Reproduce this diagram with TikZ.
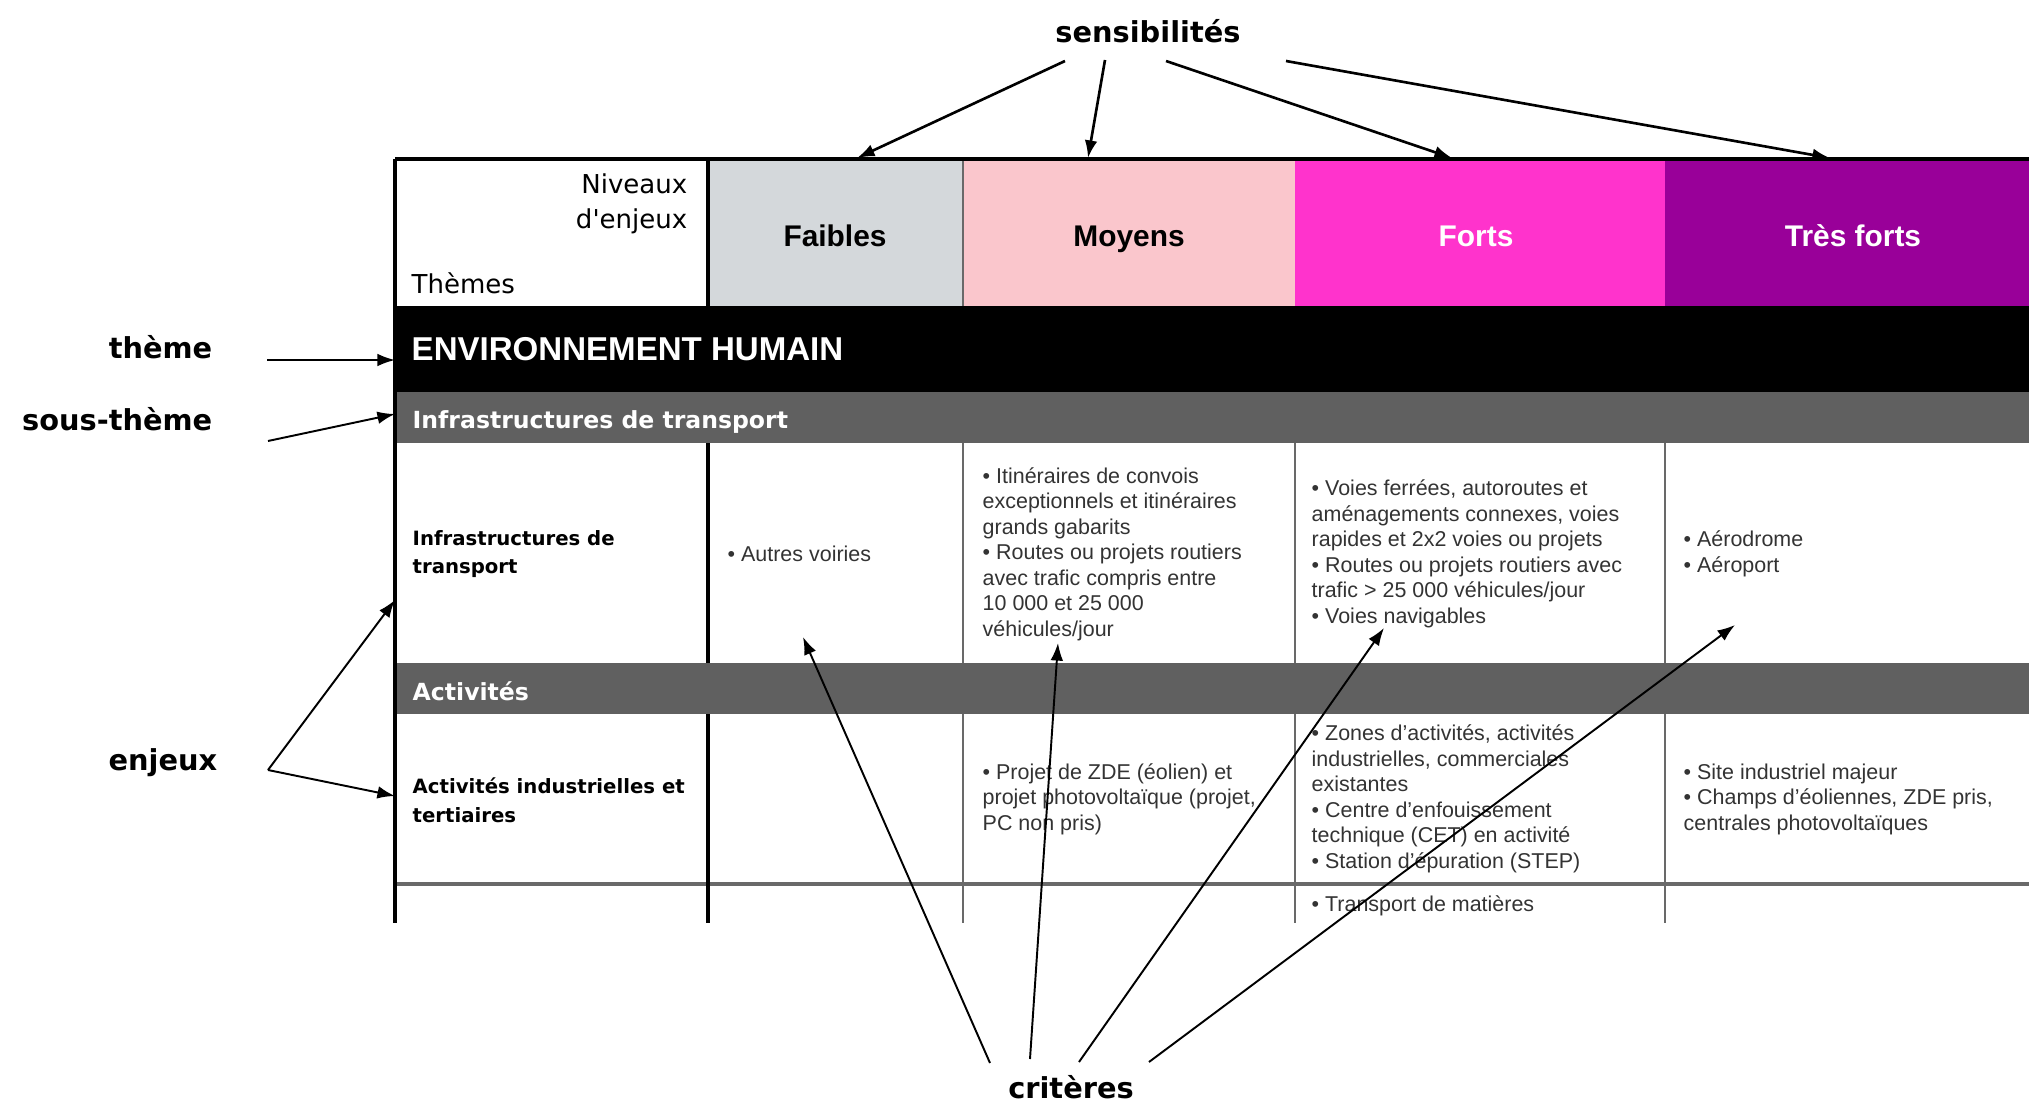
\documentclass[tikz,border=0pt]{standalone}
\usepackage{fontspec}
\setmainfont{Liberation Sans}
\newfontfamily\dejavu{DejaVu Sans}
\usetikzlibrary{arrows.meta}
\definecolor{faible}{RGB}{212,216,219}
\definecolor{moyen}{RGB}{250,198,204}
\definecolor{fort}{RGB}{255,51,204}
\definecolor{tresfort}{RGB}{153,0,153}
\definecolor{bande}{RGB}{96,96,96}
\definecolor{trait}{RGB}{105,105,105}

\begin{document}
\begin{tikzpicture}[x=0.01cm,y=-0.01cm,
  lab/.style={inner sep=0pt,font=\dejavu\bfseries\fontsize{8.2}{10}\selectfont},
  fleche/.style={-{Latex[length=5pt,width=3.6pt]},line width=0.55pt},
  titre/.style={anchor=base,inner sep=0pt,font=\bfseries\fontsize{8.5}{10}\selectfont},
  bandeau/.style={anchor=base west,inner sep=0pt,text=white,font=\dejavu\bfseries\fontsize{6.7}{8}\selectfont},
  enjeu/.style={anchor=west,inner sep=0pt,align=left,font=\dejavu\bfseries\fontsize{5.6}{8.2}\selectfont},
  cell/.style={anchor=west,inner sep=0pt,align=left,text=black!80,font=\fontsize{6.1}{7.25}\selectfont},
  grille/.style={trait,line width=0.45pt},
  gras/.style={black,line width=1.1pt}]
\fill[white] (0,0) rectangle (2029,1103);
\useasboundingbox (0,0) rectangle (2029,1103);

% en-tete
\fill[faible] (708,159) rectangle (963,306);
\fill[moyen] (963,159) rectangle (1295,306);
\fill[fort] (1295,159) rectangle (1665,306);
\fill[tresfort] (1665,159) rectangle (2029,306);
\fill[black] (395,306) rectangle (2029,392);
\fill[bande] (395,392) rectangle (2029,443);
\fill[bande] (395,663) rectangle (2029,714);

% grille
\draw[grille] (963,159)--(963,306);
\draw[grille] (963,443)--(963,663);
\draw[grille] (1295,443)--(1295,663);
\draw[grille] (1665,443)--(1665,663);
\draw[grille] (963,714)--(963,923);
\draw[grille] (1295,714)--(1295,923);
\draw[grille] (1665,714)--(1665,923);
\draw[trait,line width=1.1pt] (395,884)--(2029,884);
\draw[gras] (395,159)--(2029,159);
\draw[gras] (395,159)--(395,923);
\draw[gras] (708,159)--(708,306);
\draw[gras] (708,443)--(708,663);
\draw[gras] (708,714)--(708,923);

% textes du tableau
\node[anchor=east,inner sep=0pt,align=right,font=\dejavu\fontsize{7.4}{10}\selectfont] (niveaux) at (688,204) {Niveaux\\d'enjeux};
\node[anchor=base west,inner sep=0pt,font=\dejavu\fontsize{7.4}{10}\selectfont] (themes) at (411,293) {Thèmes};
\node[titre] (faibles) at (835,246) {Faibles};
\node[titre] (moyens) at (1129,246) {Moyens};
\node[titre,text=white] (forts) at (1476,246) {Forts};
\node[titre,text=white] (tresforts) at (1853,246) {Très forts};
\node[anchor=base west,inner sep=0pt,text=white,font=\bfseries\fontsize{9.4}{11}\selectfont] (env) at (411,360) {ENVIRONNEMENT HUMAIN};
\node[bandeau] (infra) at (412,428) {Infrastructures de transport};
\node[bandeau] (activ) at (412,700) {Activités};

\node[enjeu] (e1) at (412,554) {Infrastructures de\\transport};
\node[enjeu] (e2) at (412,800) {Activités industrielles et\\tertiaires};

\node[cell] (c11) at (727,554) {• Autres voiries};
\node[cell] (c12) at (982,554) {• Itinéraires de convois\\exceptionnels et itinéraires\\grands gabarits\\• Routes ou projets routiers\\avec trafic compris entre\\10 000 et 25 000\\véhicules/jour};
\node[cell] (c13) at (1311,554) {• Voies ferrées, autoroutes et\\aménagements connexes, voies\\rapides et 2x2 voies ou projets\\• Routes ou projets routiers avec\\trafic > 25 000 véhicules/jour\\• Voies navigables};
\node[cell] (c14) at (1683,554) {• Aérodrome\\• Aéroport};
\node[cell] (c22) at (982,799) {• Projet de ZDE (éolien) et\\projet photovoltaïque (projet,\\PC non pris)};
\node[cell] (c23) at (1311,799) {• Zones d'activités, activités\\industrielles, commerciales\\existantes\\• Centre d'enfouissement\\technique (CET) en activité\\• Station d'épuration (STEP)};
\node[cell] (c24) at (1683,799) {• Site industriel majeur\\• Champs d'éoliennes, ZDE pris,\\centrales photovoltaïques};
\node[cell] (c33) at (1311,906) {• Transport de matières};

% etiquettes
\node[lab,anchor=base east] (theme) at (213,358) {thème};
\node[lab,anchor=base east] (soustheme) at (213,430) {sous-thème};
\node[lab,anchor=base east] (enjeux) at (218,770) {enjeux};
\node[lab,anchor=base] (sensib) at (1148,42) {sensibilités};
\node[lab,anchor=base] (criteres) at (1071,1098) {critères};

% fleches
\coordinate (t0) at (267,360);
\coordinate (t1) at (395,360);
\coordinate (st0) at (268,441);
\coordinate (st1) at (395,414);
\coordinate (en0) at (268,770);
\coordinate (en1) at (395,600);
\coordinate (en2) at (395,796);
\draw[fleche] (t0)--(t1);
\draw[fleche] (st0)--(st1);
\draw[fleche] (en0)--(en1);
\draw[fleche] (en0)--(en2);

\coordinate (s1) at (1065,61);
\coordinate (s2) at (1105,60);
\coordinate (s3) at (1166,61);
\coordinate (s4) at (1286,61);
\draw[fleche,line width=0.75pt] (s1)--(857,158);
\draw[fleche,line width=0.75pt] (s2)--(1088,158);
\draw[fleche,line width=0.75pt] (s3)--(1452,158);
\draw[fleche,line width=0.75pt] (s4)--(1830,158);

\coordinate (k1) at (990,1063);
\coordinate (k2) at (1030,1059);
\coordinate (k3) at (1079,1062);
\coordinate (k4) at (1149,1062);
\draw[fleche] (k1)--(803,637);
\draw[fleche] (k2)--(1058,643);
\draw[fleche] (k3)--(1384,628);
\draw[fleche] (k4)--(1735,625);
\end{tikzpicture}
\end{document}
